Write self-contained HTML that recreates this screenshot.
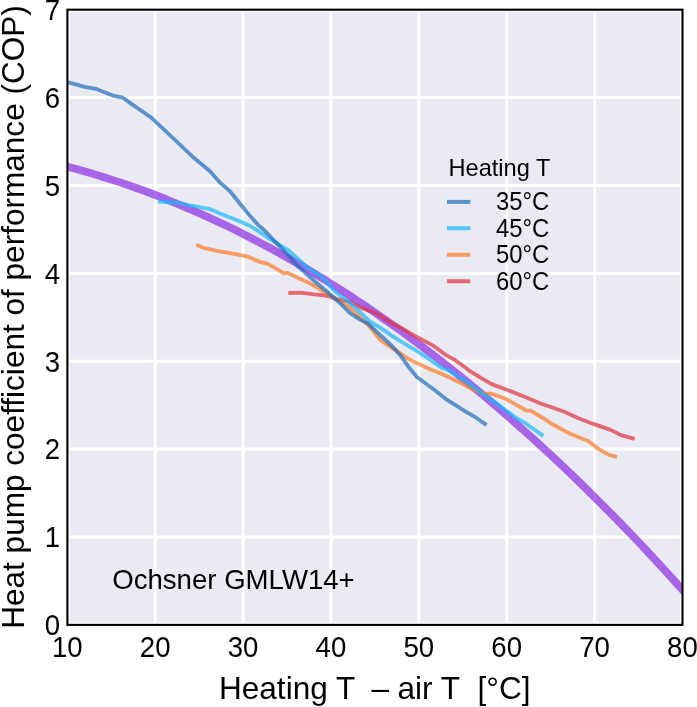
<!DOCTYPE html>
<html><head><meta charset="utf-8"><title>Heat pump COP</title>
<style>
html,body{margin:0;padding:0;background:#fff;}
body{width:697px;height:707px;overflow:hidden;}
svg{display:block;will-change:transform;}
text{font-family:"Liberation Sans",sans-serif;fill:#000;}
</style></head><body>
<svg width="697" height="707" viewBox="0 0 697 707">
<rect width="697" height="707" fill="#fff"/>
<rect x="67.4" y="9.7" width="615.1" height="615.2" fill="#eaeaf2"/>
<g stroke="#fff" stroke-width="3"><line x1="155.3" y1="9.7" x2="155.3" y2="624.9"/><line x1="243.1" y1="9.7" x2="243.1" y2="624.9"/><line x1="331.0" y1="9.7" x2="331.0" y2="624.9"/><line x1="418.9" y1="9.7" x2="418.9" y2="624.9"/><line x1="506.8" y1="9.7" x2="506.8" y2="624.9"/><line x1="594.6" y1="9.7" x2="594.6" y2="624.9"/><line x1="682.5" y1="9.7" x2="682.5" y2="624.9"/><line x1="67.4" y1="537.0" x2="682.5" y2="537.0"/><line x1="67.4" y1="449.1" x2="682.5" y2="449.1"/><line x1="67.4" y1="361.2" x2="682.5" y2="361.2"/><line x1="67.4" y1="273.4" x2="682.5" y2="273.4"/><line x1="67.4" y1="185.5" x2="682.5" y2="185.5"/><line x1="67.4" y1="97.6" x2="682.5" y2="97.6"/><line x1="69.10" y1="9.7" x2="69.10" y2="624.9" stroke-width="1.4"/><line x1="680.80" y1="9.7" x2="680.80" y2="624.9" stroke-width="1.4"/><line x1="67.4" y1="11.40" x2="682.5" y2="11.40" stroke-width="1.4"/><line x1="67.4" y1="623.20" x2="682.5" y2="623.20" stroke-width="1.4"/></g>
<clipPath id="ax"><rect x="67.4" y="9.7" width="615.1" height="615.2"/></clipPath>
<g fill="none" stroke-linejoin="round" stroke-linecap="butt" clip-path="url(#ax)">
<path d="M58.6,164.5 L67.4,166.8 L76.2,169.1 L85.0,171.6 L93.8,174.1 L102.5,176.8 L111.3,179.6 L120.1,182.4 L128.9,185.4 L137.7,188.5 L146.5,191.7 L155.3,195.0 L164.1,198.4 L172.8,202.0 L181.6,205.6 L190.4,209.3 L199.2,213.2 L208.0,217.1 L216.8,221.2 L225.6,225.3 L234.4,229.6 L243.1,234.0 L251.9,238.5 L260.7,243.1 L269.5,247.8 L278.3,252.6 L287.1,257.5 L295.9,262.5 L304.7,267.7 L313.4,272.9 L322.2,278.2 L331.0,283.7 L339.8,289.3 L348.6,294.9 L357.4,300.7 L366.2,306.6 L375.0,312.6 L383.7,318.7 L392.5,324.9 L401.3,331.2 L410.1,337.6 L418.9,344.1 L427.7,350.8 L436.5,357.5 L445.2,364.4 L454.0,371.3 L462.8,378.4 L471.6,385.5 L480.4,392.8 L489.2,400.2 L498.0,407.7 L506.8,415.3 L515.5,423.0 L524.3,430.8 L533.1,438.7 L541.9,446.8 L550.7,454.9 L559.5,463.1 L568.3,471.5 L577.1,479.9 L585.8,488.5 L594.6,497.2 L603.4,506.0 L612.2,514.8 L621.0,523.8 L629.8,532.9 L638.6,542.1 L647.4,551.5 L656.1,560.9 L664.9,570.4 L673.7,580.1 L682.5,589.8 L691.3,599.6" stroke="#8a2be2" stroke-width="7.8" stroke-opacity="0.7"/>
<path d="M288.3,293.0 L300.7,292.7 L314.4,294.4 L326.5,295.6 L336.8,299.1 L350.0,302.0 L360.0,307.5 L370.1,311.0 L377.1,313.6 L385.2,319.1 L395.2,324.6 L405.2,330.1 L410.0,333.1 L420.1,338.6 L433.1,345.6 L445.2,354.6 L455.2,360.2 L464.3,366.7 L470.0,371.2 L481.3,378.1 L491.7,384.1 L512.3,391.9 L529.5,398.7 L540.0,403.2 L562.4,411.0 L577.9,417.9 L593.4,423.9 L610.6,429.9 L620.9,435.1 L634.7,438.9" stroke="#e1303e" stroke-width="3.8" stroke-opacity="0.7"/>
<path d="M196.3,244.8 L202.6,247.6 L218.4,251.1 L234.2,253.9 L246.8,256.3 L259.4,261.8 L267.3,263.7 L275.2,268.1 L283.9,273.4 L287.9,272.9 L298.6,278.2 L307.2,281.9 L315.8,286.7 L324.4,292.2 L333.0,296.9 L341.6,302.5 L350.0,308.0 L360.0,317.1 L370.1,327.1 L380.1,339.7 L384.1,342.7 L392.2,348.2 L400.2,353.2 L408.0,358.9 L420.1,364.6 L430.1,369.2 L440.2,373.2 L450.2,377.7 L460.3,382.8 L470.0,387.8 L475.8,391.0 L483.6,393.8 L490.0,393.3 L496.5,395.5 L505.5,398.7 L514.6,403.9 L526.2,410.5 L530.7,410.7 L546.7,420.3 L550.3,423.0 L569.3,433.4 L588.2,441.1 L598.5,448.9 L608.9,454.9 L617.0,457.0" stroke="#fd7927" stroke-width="3.8" stroke-opacity="0.7"/>
<path d="M158.1,201.5 L180.0,203.0 L189.1,205.4 L200.0,207.1 L210.0,209.1 L220.1,213.6 L230.1,217.6 L240.2,221.6 L250.2,226.1 L256.2,229.6 L264.3,235.2 L270.0,239.2 L288.6,250.4 L298.6,259.5 L307.2,267.2 L315.0,272.8 L320.1,275.4 L324.4,279.3 L328.7,284.4 L333.0,289.6 L338.2,293.9 L345.1,299.1 L350.0,303.0 L360.0,312.1 L370.1,321.6 L380.1,327.6 L390.2,334.6 L400.2,341.2 L410.0,346.8 L420.1,353.1 L430.1,359.7 L442.2,368.2 L447.2,369.7 L456.2,375.2 L464.3,380.3 L470.0,384.5 L475.8,389.1 L488.7,398.1 L501.7,407.1 L514.6,416.8 L526.1,423.7 L543.3,435.9" stroke="#14b9fb" stroke-width="3.8" stroke-opacity="0.7"/>
<path d="M67.4,82.1 L84.5,86.9 L96.2,88.9 L112.9,95.6 L122.8,97.7 L130.0,102.9 L150.7,117.2 L164.4,129.8 L178.2,143.0 L192.0,156.2 L210.0,171.2 L220.1,182.7 L229.2,190.4 L233.1,195.0 L240.2,204.0 L250.2,216.1 L258.3,225.1 L264.3,230.2 L270.0,236.2 L283.3,250.1 L298.9,267.2 L314.4,281.0 L326.5,291.3 L338.5,301.7 L350.0,313.1 L360.0,319.6 L368.1,323.6 L376.1,331.1 L384.1,338.7 L392.2,346.2 L400.2,355.2 L408.0,366.2 L417.1,377.2 L426.1,383.8 L435.2,390.5 L447.1,399.9 L465.8,411.7 L476.2,417.7 L486.5,425.1" stroke="#1f6cbc" stroke-width="3.8" stroke-opacity="0.7"/>
</g>
<rect x="67.4" y="9.7" width="615.1" height="615.2" fill="none" stroke="#000" stroke-width="2.1"/>
<g font-size="27.6"><text transform="translate(60.1,635.2) scale(1,1.04)" text-anchor="end">0</text><text transform="translate(60.1,547.3) scale(1,1.04)" text-anchor="end">1</text><text transform="translate(60.1,459.4) scale(1,1.04)" text-anchor="end">2</text><text transform="translate(60.1,371.5) scale(1,1.04)" text-anchor="end">3</text><text transform="translate(60.1,283.7) scale(1,1.04)" text-anchor="end">4</text><text transform="translate(60.1,195.8) scale(1,1.04)" text-anchor="end">5</text><text transform="translate(60.1,107.9) scale(1,1.04)" text-anchor="end">6</text><text transform="translate(60.1,20.0) scale(1,1.04)" text-anchor="end">7</text><text transform="translate(67.3,657.3) scale(1,1.04)" text-anchor="middle">10</text><text transform="translate(155.2,657.3) scale(1,1.04)" text-anchor="middle">20</text><text transform="translate(243.0,657.3) scale(1,1.04)" text-anchor="middle">30</text><text transform="translate(330.9,657.3) scale(1,1.04)" text-anchor="middle">40</text><text transform="translate(418.8,657.3) scale(1,1.04)" text-anchor="middle">50</text><text transform="translate(506.7,657.3) scale(1,1.04)" text-anchor="middle">60</text><text transform="translate(594.5,657.3) scale(1,1.04)" text-anchor="middle">70</text><text transform="translate(682.4,657.3) scale(1,1.04)" text-anchor="middle">80</text></g>
<text x="448.5" y="176.2" font-size="23.6">Heating T</text>
<line x1="447" y1="201.9" x2="470.3" y2="201.9" stroke="#1f6cbc" stroke-opacity="0.7" stroke-width="4"/><text transform="translate(495.9,210.1) scale(1,1.04)" font-size="23.9">35°C</text><line x1="447" y1="228.2" x2="470.3" y2="228.2" stroke="#14b9fb" stroke-opacity="0.7" stroke-width="4"/><text transform="translate(495.9,236.6) scale(1,1.04)" font-size="23.9">45°C</text><line x1="447" y1="254.8" x2="470.3" y2="254.8" stroke="#fd7927" stroke-opacity="0.7" stroke-width="4"/><text transform="translate(495.9,263.3) scale(1,1.04)" font-size="23.9">50°C</text><line x1="447" y1="281.2" x2="470.3" y2="281.2" stroke="#e1303e" stroke-opacity="0.7" stroke-width="4"/><text transform="translate(495.9,289.8) scale(1,1.04)" font-size="23.9">60°C</text>
<text x="112.2" y="588.6" font-size="27.6">Ochsner GMLW14+</text>
<g font-size="31.55">
<text x="219" y="698.8">Heating T</text>
<text x="371.4" y="698.8">–</text>
<text x="397.5" y="698.8">air T</text>
<text x="477.5" y="698.8">[°C]</text>
<text transform="translate(23.8,317.0) rotate(-90)" text-anchor="middle">Heat pump coefficient of performance (COP)</text>
</g>
</svg>
</body></html>
